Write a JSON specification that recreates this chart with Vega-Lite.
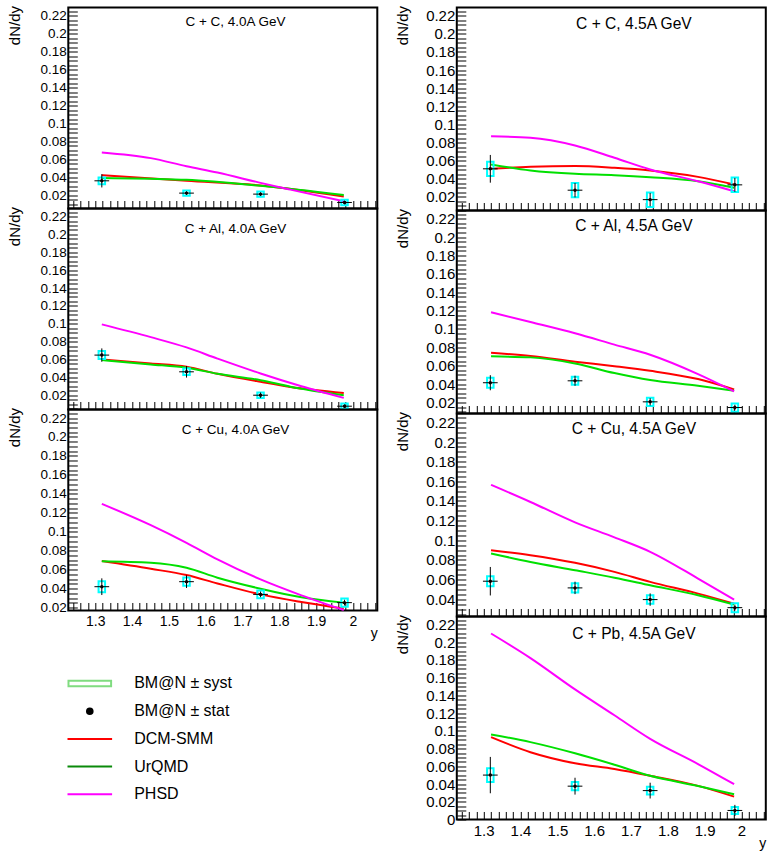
{
  "$schema": "https://vega.github.io/schema/vega-lite/v6.json",
  "background": "white",
  "padding": {"left": 5.3, "top": 2.5, "right": 5, "bottom": 5},
  "datasets": {
    "points": [
      {"panel": "L1", "rap": 1.318, "dndy": 0.0363, "stat": 0.0074, "syslo": 0.0326, "syshi": 0.0400, "xerr": 0.02},
      {"panel": "L1", "rap": 1.548, "dndy": 0.0226, "stat": 0.002, "syslo": 0.0196, "syshi": 0.0256, "xerr": 0.02},
      {"panel": "L1", "rap": 1.749, "dndy": 0.0215, "stat": 0.002, "syslo": 0.0185, "syshi": 0.0245, "xerr": 0.02},
      {"panel": "L1", "rap": 1.977, "dndy": 0.0122, "stat": 0.002, "syslo": 0.0092, "syshi": 0.0152, "xerr": 0.02},
      {"panel": "L2", "rap": 1.318, "dndy": 0.0649, "stat": 0.0075, "syslo": 0.0604, "syshi": 0.0694, "xerr": 0.02},
      {"panel": "L2", "rap": 1.548, "dndy": 0.0462, "stat": 0.0065, "syslo": 0.0425, "syshi": 0.0499, "xerr": 0.02},
      {"panel": "L2", "rap": 1.749, "dndy": 0.0200, "stat": 0.003, "syslo": 0.0170, "syshi": 0.0230, "xerr": 0.02},
      {"panel": "L2", "rap": 1.977, "dndy": 0.0077, "stat": 0.002, "syslo": 0.0047, "syshi": 0.0107, "xerr": 0.02},
      {"panel": "L3", "rap": 1.318, "dndy": 0.0421, "stat": 0.0088, "syslo": 0.0363, "syshi": 0.0479, "xerr": 0.02},
      {"panel": "L3", "rap": 1.548, "dndy": 0.0474, "stat": 0.0067, "syslo": 0.0430, "syshi": 0.0518, "xerr": 0.02},
      {"panel": "L3", "rap": 1.749, "dndy": 0.0340, "stat": 0.003, "syslo": 0.0300, "syshi": 0.0380, "xerr": 0.02},
      {"panel": "L3", "rap": 1.977, "dndy": 0.0253, "stat": 0.003, "syslo": 0.0209, "syshi": 0.0297, "xerr": 0.02},
      {"panel": "R1", "rap": 1.318, "dndy": 0.0510, "stat": 0.0153, "syslo": 0.0431, "syshi": 0.0589, "xerr": 0.02},
      {"panel": "R1", "rap": 1.548, "dndy": 0.0274, "stat": 0.008, "syslo": 0.0195, "syshi": 0.0353, "xerr": 0.02},
      {"panel": "R1", "rap": 1.752, "dndy": 0.0170, "stat": 0.0074, "syslo": 0.0090, "syshi": 0.0250, "xerr": 0.02},
      {"panel": "R1", "rap": 1.982, "dndy": 0.0333, "stat": 0.0077, "syslo": 0.0253, "syshi": 0.0413, "xerr": 0.02},
      {"panel": "R2", "rap": 1.318, "dndy": 0.0415, "stat": 0.0082, "syslo": 0.0360, "syshi": 0.0470, "xerr": 0.02},
      {"panel": "R2", "rap": 1.548, "dndy": 0.0436, "stat": 0.0055, "syslo": 0.0392, "syshi": 0.0480, "xerr": 0.02},
      {"panel": "R2", "rap": 1.752, "dndy": 0.0207, "stat": 0.004, "syslo": 0.0162, "syshi": 0.0252, "xerr": 0.02},
      {"panel": "R2", "rap": 1.982, "dndy": 0.0145, "stat": 0.003, "syslo": 0.0100, "syshi": 0.0190, "xerr": 0.02},
      {"panel": "R3", "rap": 1.318, "dndy": 0.0584, "stat": 0.0145, "syslo": 0.0533, "syshi": 0.0635, "xerr": 0.02},
      {"panel": "R3", "rap": 1.548, "dndy": 0.0516, "stat": 0.0063, "syslo": 0.0470, "syshi": 0.0562, "xerr": 0.02},
      {"panel": "R3", "rap": 1.752, "dndy": 0.0397, "stat": 0.0063, "syslo": 0.0354, "syshi": 0.0440, "xerr": 0.02},
      {"panel": "R3", "rap": 1.982, "dndy": 0.0315, "stat": 0.003, "syslo": 0.0269, "syshi": 0.0361, "xerr": 0.02},
      {"panel": "R4", "rap": 1.318, "dndy": 0.0501, "stat": 0.0205, "syslo": 0.0423, "syshi": 0.0579, "xerr": 0.02},
      {"panel": "R4", "rap": 1.548, "dndy": 0.0376, "stat": 0.0095, "syslo": 0.0329, "syshi": 0.0423, "xerr": 0.02},
      {"panel": "R4", "rap": 1.752, "dndy": 0.0326, "stat": 0.0089, "syslo": 0.0282, "syshi": 0.0370, "xerr": 0.02},
      {"panel": "R4", "rap": 1.982, "dndy": 0.0102, "stat": 0.0063, "syslo": 0.0062, "syshi": 0.0142, "xerr": 0.02}
    ],
    "models": [
      {"panel": "L1", "model": "DCM-SMM", "rap": 1.318, "dndy": 0.0426},
      {"panel": "L1", "model": "DCM-SMM", "rap": 1.548, "dndy": 0.0363},
      {"panel": "L1", "model": "DCM-SMM", "rap": 1.749, "dndy": 0.0311},
      {"panel": "L1", "model": "DCM-SMM", "rap": 1.975, "dndy": 0.0189},
      {"panel": "L1", "model": "UrQMD", "rap": 1.318, "dndy": 0.0393},
      {"panel": "L1", "model": "UrQMD", "rap": 1.451, "dndy": 0.0385},
      {"panel": "L1", "model": "UrQMD", "rap": 1.548, "dndy": 0.0374},
      {"panel": "L1", "model": "UrQMD", "rap": 1.749, "dndy": 0.0307},
      {"panel": "L1", "model": "UrQMD", "rap": 1.975, "dndy": 0.0204},
      {"panel": "L1", "model": "PHSD", "rap": 1.318, "dndy": 0.0678},
      {"panel": "L1", "model": "PHSD", "rap": 1.451, "dndy": 0.0615},
      {"panel": "L1", "model": "PHSD", "rap": 1.548, "dndy": 0.0525},
      {"panel": "L1", "model": "PHSD", "rap": 1.632, "dndy": 0.0455},
      {"panel": "L1", "model": "PHSD", "rap": 1.749, "dndy": 0.0340},
      {"panel": "L1", "model": "PHSD", "rap": 1.830, "dndy": 0.0265},
      {"panel": "L1", "model": "PHSD", "rap": 1.975, "dndy": 0.0135},
      {"panel": "L2", "model": "DCM-SMM", "rap": 1.318, "dndy": 0.0600},
      {"panel": "L2", "model": "DCM-SMM", "rap": 1.451, "dndy": 0.0555},
      {"panel": "L2", "model": "DCM-SMM", "rap": 1.548, "dndy": 0.0518},
      {"panel": "L2", "model": "DCM-SMM", "rap": 1.632, "dndy": 0.0440},
      {"panel": "L2", "model": "DCM-SMM", "rap": 1.749, "dndy": 0.0350},
      {"panel": "L2", "model": "DCM-SMM", "rap": 1.830, "dndy": 0.0293},
      {"panel": "L2", "model": "DCM-SMM", "rap": 1.975, "dndy": 0.0226},
      {"panel": "L2", "model": "UrQMD", "rap": 1.318, "dndy": 0.0593},
      {"panel": "L2", "model": "UrQMD", "rap": 1.451, "dndy": 0.0545},
      {"panel": "L2", "model": "UrQMD", "rap": 1.548, "dndy": 0.0507},
      {"panel": "L2", "model": "UrQMD", "rap": 1.632, "dndy": 0.0440},
      {"panel": "L2", "model": "UrQMD", "rap": 1.749, "dndy": 0.0368},
      {"panel": "L2", "model": "UrQMD", "rap": 1.830, "dndy": 0.0295},
      {"panel": "L2", "model": "UrQMD", "rap": 1.975, "dndy": 0.0200},
      {"panel": "L2", "model": "PHSD", "rap": 1.318, "dndy": 0.0993},
      {"panel": "L2", "model": "PHSD", "rap": 1.451, "dndy": 0.0850},
      {"panel": "L2", "model": "PHSD", "rap": 1.548, "dndy": 0.0735},
      {"panel": "L2", "model": "PHSD", "rap": 1.632, "dndy": 0.0610},
      {"panel": "L2", "model": "PHSD", "rap": 1.749, "dndy": 0.0443},
      {"panel": "L2", "model": "PHSD", "rap": 1.860, "dndy": 0.0300},
      {"panel": "L2", "model": "PHSD", "rap": 1.975, "dndy": 0.0170},
      {"panel": "L3", "model": "DCM-SMM", "rap": 1.318, "dndy": 0.0691},
      {"panel": "L3", "model": "DCM-SMM", "rap": 1.451, "dndy": 0.0610},
      {"panel": "L3", "model": "DCM-SMM", "rap": 1.548, "dndy": 0.0544},
      {"panel": "L3", "model": "DCM-SMM", "rap": 1.632, "dndy": 0.0455},
      {"panel": "L3", "model": "DCM-SMM", "rap": 1.749, "dndy": 0.0340},
      {"panel": "L3", "model": "DCM-SMM", "rap": 1.860, "dndy": 0.0260},
      {"panel": "L3", "model": "DCM-SMM", "rap": 1.975, "dndy": 0.0190},
      {"panel": "L3", "model": "UrQMD", "rap": 1.318, "dndy": 0.0690},
      {"panel": "L3", "model": "UrQMD", "rap": 1.451, "dndy": 0.0674},
      {"panel": "L3", "model": "UrQMD", "rap": 1.548, "dndy": 0.0621},
      {"panel": "L3", "model": "UrQMD", "rap": 1.632, "dndy": 0.0516},
      {"panel": "L3", "model": "UrQMD", "rap": 1.749, "dndy": 0.0400},
      {"panel": "L3", "model": "UrQMD", "rap": 1.860, "dndy": 0.0310},
      {"panel": "L3", "model": "UrQMD", "rap": 1.975, "dndy": 0.0253},
      {"panel": "L3", "model": "PHSD", "rap": 1.318, "dndy": 0.1295},
      {"panel": "L3", "model": "PHSD", "rap": 1.451, "dndy": 0.1070},
      {"panel": "L3", "model": "PHSD", "rap": 1.548, "dndy": 0.0884},
      {"panel": "L3", "model": "PHSD", "rap": 1.632, "dndy": 0.0710},
      {"panel": "L3", "model": "PHSD", "rap": 1.749, "dndy": 0.0498},
      {"panel": "L3", "model": "PHSD", "rap": 1.860, "dndy": 0.0330},
      {"panel": "L3", "model": "PHSD", "rap": 1.975, "dndy": 0.0175},
      {"panel": "R1", "model": "DCM-SMM", "rap": 1.320, "dndy": 0.0510},
      {"panel": "R1", "model": "DCM-SMM", "rap": 1.427, "dndy": 0.0532},
      {"panel": "R1", "model": "DCM-SMM", "rap": 1.548, "dndy": 0.0540},
      {"panel": "R1", "model": "DCM-SMM", "rap": 1.655, "dndy": 0.0521},
      {"panel": "R1", "model": "DCM-SMM", "rap": 1.752, "dndy": 0.0492},
      {"panel": "R1", "model": "DCM-SMM", "rap": 1.882, "dndy": 0.0421},
      {"panel": "R1", "model": "DCM-SMM", "rap": 1.980, "dndy": 0.0337},
      {"panel": "R1", "model": "UrQMD", "rap": 1.320, "dndy": 0.0558},
      {"panel": "R1", "model": "UrQMD", "rap": 1.427, "dndy": 0.0492},
      {"panel": "R1", "model": "UrQMD", "rap": 1.548, "dndy": 0.0455},
      {"panel": "R1", "model": "UrQMD", "rap": 1.655, "dndy": 0.0440},
      {"panel": "R1", "model": "UrQMD", "rap": 1.752, "dndy": 0.0418},
      {"panel": "R1", "model": "UrQMD", "rap": 1.882, "dndy": 0.0373},
      {"panel": "R1", "model": "UrQMD", "rap": 1.980, "dndy": 0.0300},
      {"panel": "R1", "model": "PHSD", "rap": 1.320, "dndy": 0.0868},
      {"panel": "R1", "model": "PHSD", "rap": 1.427, "dndy": 0.0853},
      {"panel": "R1", "model": "PHSD", "rap": 1.548, "dndy": 0.0768},
      {"panel": "R1", "model": "PHSD", "rap": 1.655, "dndy": 0.0632},
      {"panel": "R1", "model": "PHSD", "rap": 1.752, "dndy": 0.0503},
      {"panel": "R1", "model": "PHSD", "rap": 1.882, "dndy": 0.0373},
      {"panel": "R1", "model": "PHSD", "rap": 1.980, "dndy": 0.0263},
      {"panel": "R2", "model": "DCM-SMM", "rap": 1.320, "dndy": 0.0742},
      {"panel": "R2", "model": "DCM-SMM", "rap": 1.427, "dndy": 0.0705},
      {"panel": "R2", "model": "DCM-SMM", "rap": 1.548, "dndy": 0.0644},
      {"panel": "R2", "model": "DCM-SMM", "rap": 1.655, "dndy": 0.0595},
      {"panel": "R2", "model": "DCM-SMM", "rap": 1.752, "dndy": 0.0545},
      {"panel": "R2", "model": "DCM-SMM", "rap": 1.882, "dndy": 0.0455},
      {"panel": "R2", "model": "DCM-SMM", "rap": 1.980, "dndy": 0.0342},
      {"panel": "R2", "model": "UrQMD", "rap": 1.320, "dndy": 0.0702},
      {"panel": "R2", "model": "UrQMD", "rap": 1.427, "dndy": 0.0691},
      {"panel": "R2", "model": "UrQMD", "rap": 1.548, "dndy": 0.0625},
      {"panel": "R2", "model": "UrQMD", "rap": 1.655, "dndy": 0.0520},
      {"panel": "R2", "model": "UrQMD", "rap": 1.752, "dndy": 0.0444},
      {"panel": "R2", "model": "UrQMD", "rap": 1.882, "dndy": 0.0382},
      {"panel": "R2", "model": "UrQMD", "rap": 1.980, "dndy": 0.0327},
      {"panel": "R2", "model": "PHSD", "rap": 1.320, "dndy": 0.1182},
      {"panel": "R2", "model": "PHSD", "rap": 1.427, "dndy": 0.1076},
      {"panel": "R2", "model": "PHSD", "rap": 1.548, "dndy": 0.0953},
      {"panel": "R2", "model": "PHSD", "rap": 1.655, "dndy": 0.0830},
      {"panel": "R2", "model": "PHSD", "rap": 1.752, "dndy": 0.0720},
      {"panel": "R2", "model": "PHSD", "rap": 1.882, "dndy": 0.0509},
      {"panel": "R2", "model": "PHSD", "rap": 1.980, "dndy": 0.0320},
      {"panel": "R3", "model": "DCM-SMM", "rap": 1.320, "dndy": 0.0900},
      {"panel": "R3", "model": "DCM-SMM", "rap": 1.427, "dndy": 0.0849},
      {"panel": "R3", "model": "DCM-SMM", "rap": 1.548, "dndy": 0.0771},
      {"panel": "R3", "model": "DCM-SMM", "rap": 1.655, "dndy": 0.0679},
      {"panel": "R3", "model": "DCM-SMM", "rap": 1.752, "dndy": 0.0577},
      {"panel": "R3", "model": "DCM-SMM", "rap": 1.882, "dndy": 0.0458},
      {"panel": "R3", "model": "DCM-SMM", "rap": 1.980, "dndy": 0.0356},
      {"panel": "R3", "model": "UrQMD", "rap": 1.320, "dndy": 0.0866},
      {"panel": "R3", "model": "UrQMD", "rap": 1.427, "dndy": 0.0780},
      {"panel": "R3", "model": "UrQMD", "rap": 1.548, "dndy": 0.0696},
      {"panel": "R3", "model": "UrQMD", "rap": 1.655, "dndy": 0.0620},
      {"panel": "R3", "model": "UrQMD", "rap": 1.752, "dndy": 0.0543},
      {"panel": "R3", "model": "UrQMD", "rap": 1.882, "dndy": 0.0441},
      {"panel": "R3", "model": "UrQMD", "rap": 1.980, "dndy": 0.0346},
      {"panel": "R3", "model": "PHSD", "rap": 1.320, "dndy": 0.1564},
      {"panel": "R3", "model": "PHSD", "rap": 1.427, "dndy": 0.1390},
      {"panel": "R3", "model": "PHSD", "rap": 1.548, "dndy": 0.1183},
      {"panel": "R3", "model": "PHSD", "rap": 1.655, "dndy": 0.1030},
      {"panel": "R3", "model": "PHSD", "rap": 1.752, "dndy": 0.0883},
      {"panel": "R3", "model": "PHSD", "rap": 1.882, "dndy": 0.0611},
      {"panel": "R3", "model": "PHSD", "rap": 1.980, "dndy": 0.0397},
      {"panel": "R4", "model": "DCM-SMM", "rap": 1.320, "dndy": 0.0929},
      {"panel": "R4", "model": "DCM-SMM", "rap": 1.427, "dndy": 0.0759},
      {"panel": "R4", "model": "DCM-SMM", "rap": 1.548, "dndy": 0.0634},
      {"panel": "R4", "model": "DCM-SMM", "rap": 1.655, "dndy": 0.0569},
      {"panel": "R4", "model": "DCM-SMM", "rap": 1.752, "dndy": 0.0493},
      {"panel": "R4", "model": "DCM-SMM", "rap": 1.882, "dndy": 0.0379},
      {"panel": "R4", "model": "DCM-SMM", "rap": 1.980, "dndy": 0.0258},
      {"panel": "R4", "model": "UrQMD", "rap": 1.320, "dndy": 0.0960},
      {"panel": "R4", "model": "UrQMD", "rap": 1.427, "dndy": 0.0873},
      {"panel": "R4", "model": "UrQMD", "rap": 1.548, "dndy": 0.0747},
      {"panel": "R4", "model": "UrQMD", "rap": 1.655, "dndy": 0.0618},
      {"panel": "R4", "model": "UrQMD", "rap": 1.752, "dndy": 0.0493},
      {"panel": "R4", "model": "UrQMD", "rap": 1.882, "dndy": 0.0379},
      {"panel": "R4", "model": "UrQMD", "rap": 1.980, "dndy": 0.0285},
      {"panel": "R4", "model": "PHSD", "rap": 1.320, "dndy": 0.2098},
      {"panel": "R4", "model": "PHSD", "rap": 1.427, "dndy": 0.1821},
      {"panel": "R4", "model": "PHSD", "rap": 1.548, "dndy": 0.1468},
      {"panel": "R4", "model": "PHSD", "rap": 1.655, "dndy": 0.1176},
      {"panel": "R4", "model": "PHSD", "rap": 1.752, "dndy": 0.0910},
      {"panel": "R4", "model": "PHSD", "rap": 1.882, "dndy": 0.0626},
      {"panel": "R4", "model": "PHSD", "rap": 1.980, "dndy": 0.0398}
    ],
    "legend": [
      {"entry": "BM@N ± syst"},
      {"entry": "BM@N ± stat"},
      {"entry": "DCM-SMM"},
      {"entry": "UrQMD"},
      {"entry": "PHSD"}
    ]
  },
  "hconcat": [
    {
      "vconcat": [
        {
          "width": 309, "height": 201,
          "title": {"text": "C + C, 4.0A GeV", "frame": "group", "anchor": "middle", "dx": 12.7, "offset": -35.3, "baseline": "alphabetic", "fontSize": 13.5},
          "layer": [
            {"data": {"name": "models"}, "transform": [{"filter": "datum.panel === 'L1'"}],
             "mark": {"type": "line", "strokeWidth": 2, "interpolate": "monotone"},
             "encoding": {
               "x": {"field": "rap", "type": "quantitative", "title": null, "scale": {"domain": [1.227, 2.066], "nice": false, "zero": false, "padding": 0},
                     "axis": {"title": null, "labels": false, "tickCount": 200, "values": [1.24,1.26,1.28,1.3,1.32,1.34,1.36,1.38,1.4,1.42,1.44,1.46,1.48,1.5,1.52,1.54,1.56,1.58,1.6,1.62,1.64,1.66,1.68,1.7,1.72,1.74,1.76,1.78,1.8,1.82,1.84,1.86,1.88,1.9,1.92,1.94,1.96,1.98,2,2.02,2.04,2.06],
                              "tickSize": -8, "encode": {"ticks": {"update": {"y2": {"signal": "abs(datum.value*10 - round(datum.value*10)) < 0.000001 ? -8 : -4"}}}}}},
               "y": {"field": "dndy", "type": "quantitative", "title": "dN/dy", "scale": {"domain": [0.0055, 0.229], "nice": false, "zero": false},
                     "axis": {"title": "dN/dy", "tickCount": 200, "values": [0.01,0.015,0.02,0.025,0.03,0.035,0.04,0.045,0.05,0.055,0.06,0.065,0.07,0.075,0.08,0.085,0.09,0.095,0.1,0.105,0.11,0.115,0.12,0.125,0.13,0.135,0.14,0.145,0.15,0.155,0.16,0.165,0.17,0.175,0.18,0.185,0.19,0.195,0.2,0.205,0.21,0.215,0.22,0.225],
                              "tickSize": -9, "encode": {"ticks": {"update": {"x2": {"signal": "abs(datum.value*50 - round(datum.value*50)) < 0.000001 ? 9 : 4.5"}}}},
                              "labelExpr": "abs(datum.value*50 - round(datum.value*50)) < 0.000001 ? format(datum.value, '~g') : ''",
                              "labelPadding": 11, "labelFontSize": 13.5, "titleFontSize": 15, "titleAngle": -90, "titleAlign": "right", "titleBaseline": "middle", "titleX": -54, "titleY": -2}},
               "color": {"field": "model", "type": "nominal", "scale": {"domain": ["DCM-SMM", "UrQMD", "PHSD"], "range": ["#ff0000", "#00e000", "#ff00ff"]}, "legend": null}
             }},
            {"data": {"name": "points"}, "transform": [{"filter": "datum.panel === 'L1'"}],
             "mark": {"type": "bar", "width": 6.5, "filled": false, "stroke": "#00ffff", "strokeWidth": 2},
             "encoding": {"x": {"field": "rap", "type": "quantitative", "title": null}, "y": {"field": "syslo", "type": "quantitative", "title": "dN/dy"}, "y2": {"field": "syshi"}}},
            {"data": {"name": "points"}, "transform": [{"filter": "datum.panel === 'L1'"}],
             "mark": {"type": "errorbar", "ticks": false, "color": "black", "thickness": 1},
             "encoding": {"x": {"field": "rap", "type": "quantitative", "title": null}, "y": {"field": "dndy", "type": "quantitative", "title": "dN/dy"}, "yError": {"field": "stat"}}},
            {"data": {"name": "points"}, "transform": [{"filter": "datum.panel === 'L1'"}],
             "mark": {"type": "errorbar", "ticks": false, "color": "black", "thickness": 1},
             "encoding": {"x": {"field": "rap", "type": "quantitative", "title": null}, "xError": {"field": "xerr"}, "y": {"field": "dndy", "type": "quantitative", "title": "dN/dy"}}},
            {"data": {"name": "points"}, "transform": [{"filter": "datum.panel === 'L1'"}],
             "mark": {"type": "point", "filled": true, "color": "black", "size": 12, "opacity": 1},
             "encoding": {"x": {"field": "rap", "type": "quantitative", "title": null}, "y": {"field": "dndy", "type": "quantitative", "title": "dN/dy"}}}
          ]
        },
        {
          "width": 309, "height": 201,
          "title": {"text": "C + Al, 4.0A GeV", "frame": "group", "anchor": "middle", "dx": 12.7, "offset": -41, "baseline": "alphabetic", "fontSize": 13.5},
          "layer": [
            {"data": {"name": "models"}, "transform": [{"filter": "datum.panel === 'L2'"}],
             "mark": {"type": "line", "strokeWidth": 2, "interpolate": "monotone"},
             "encoding": {
               "x": {"field": "rap", "type": "quantitative", "title": null, "scale": {"domain": [1.227, 2.066], "nice": false, "zero": false, "padding": 0},
                     "axis": {"title": null, "labels": false, "tickCount": 200, "values": [1.24,1.26,1.28,1.3,1.32,1.34,1.36,1.38,1.4,1.42,1.44,1.46,1.48,1.5,1.52,1.54,1.56,1.58,1.6,1.62,1.64,1.66,1.68,1.7,1.72,1.74,1.76,1.78,1.8,1.82,1.84,1.86,1.88,1.9,1.92,1.94,1.96,1.98,2,2.02,2.04,2.06],
                              "tickSize": -8, "encode": {"ticks": {"update": {"y2": {"signal": "abs(datum.value*10 - round(datum.value*10)) < 0.000001 ? -8 : -4"}}}}}},
               "y": {"field": "dndy", "type": "quantitative", "title": "dN/dy", "scale": {"domain": [0.004, 0.229], "nice": false, "zero": false},
                     "axis": {"title": "dN/dy", "tickCount": 200, "values": [0.005,0.01,0.015,0.02,0.025,0.03,0.035,0.04,0.045,0.05,0.055,0.06,0.065,0.07,0.075,0.08,0.085,0.09,0.095,0.1,0.105,0.11,0.115,0.12,0.125,0.13,0.135,0.14,0.145,0.15,0.155,0.16,0.165,0.17,0.175,0.18,0.185,0.19,0.195,0.2,0.205,0.21,0.215,0.22,0.225],
                              "tickSize": -9, "encode": {"ticks": {"update": {"x2": {"signal": "abs(datum.value*50 - round(datum.value*50)) < 0.000001 ? 9 : 4.5"}}}},
                              "labelExpr": "abs(datum.value*50 - round(datum.value*50)) < 0.000001 ? format(datum.value, '~g') : ''",
                              "labelPadding": 11, "labelFontSize": 13.5, "titleFontSize": 15, "titleAngle": -90, "titleAlign": "right", "titleBaseline": "middle", "titleX": -54, "titleY": -2}},
               "color": {"field": "model", "type": "nominal", "scale": {"domain": ["DCM-SMM", "UrQMD", "PHSD"], "range": ["#ff0000", "#00e000", "#ff00ff"]}, "legend": null}
             }},
            {"data": {"name": "points"}, "transform": [{"filter": "datum.panel === 'L2'"}],
             "mark": {"type": "bar", "width": 6.5, "filled": false, "stroke": "#00ffff", "strokeWidth": 2},
             "encoding": {"x": {"field": "rap", "type": "quantitative", "title": null}, "y": {"field": "syslo", "type": "quantitative", "title": "dN/dy"}, "y2": {"field": "syshi"}}},
            {"data": {"name": "points"}, "transform": [{"filter": "datum.panel === 'L2'"}],
             "mark": {"type": "errorbar", "ticks": false, "color": "black", "thickness": 1},
             "encoding": {"x": {"field": "rap", "type": "quantitative", "title": null}, "y": {"field": "dndy", "type": "quantitative", "title": "dN/dy"}, "yError": {"field": "stat"}}},
            {"data": {"name": "points"}, "transform": [{"filter": "datum.panel === 'L2'"}],
             "mark": {"type": "errorbar", "ticks": false, "color": "black", "thickness": 1},
             "encoding": {"x": {"field": "rap", "type": "quantitative", "title": null}, "xError": {"field": "xerr"}, "y": {"field": "dndy", "type": "quantitative", "title": "dN/dy"}}},
            {"data": {"name": "points"}, "transform": [{"filter": "datum.panel === 'L2'"}],
             "mark": {"type": "point", "filled": true, "color": "black", "size": 12, "opacity": 1},
             "encoding": {"x": {"field": "rap", "type": "quantitative", "title": null}, "y": {"field": "dndy", "type": "quantitative", "title": "dN/dy"}}}
          ]
        },
        {
          "width": 309, "height": 201,
          "title": {"text": "C + Cu, 4.0A GeV", "frame": "group", "anchor": "middle", "dx": 12.7, "offset": -41.5, "baseline": "alphabetic", "fontSize": 13.5},
          "layer": [
            {"data": {"name": "models"}, "transform": [{"filter": "datum.panel === 'L3'"}],
             "mark": {"type": "line", "strokeWidth": 2, "interpolate": "monotone"},
             "encoding": {
               "x": {"field": "rap", "type": "quantitative", "title": "y", "scale": {"domain": [1.227, 2.066], "nice": false, "zero": false, "padding": 0},
                     "axis": {"title": "y", "tickCount": 200, "values": [1.24,1.26,1.28,1.3,1.32,1.34,1.36,1.38,1.4,1.42,1.44,1.46,1.48,1.5,1.52,1.54,1.56,1.58,1.6,1.62,1.64,1.66,1.68,1.7,1.72,1.74,1.76,1.78,1.8,1.82,1.84,1.86,1.88,1.9,1.92,1.94,1.96,1.98,2,2.02,2.04,2.06],
                              "tickSize": -8, "encode": {"ticks": {"update": {"y2": {"signal": "abs(datum.value*10 - round(datum.value*10)) < 0.000001 ? -8 : -4"}}}},
                              "labelExpr": "abs(datum.value*10 - round(datum.value*10)) < 0.000001 ? format(datum.value, '~g') : ''",
                              "labelPadding": 12, "labelFontSize": 14, "titleFontSize": 14, "titleAlign": "right", "titleBaseline": "alphabetic", "titleX": 309, "titleY": 27}},
               "y": {"field": "dndy", "type": "quantitative", "title": "dN/dy", "scale": {"domain": [0.017, 0.229], "nice": false, "zero": false},
                     "axis": {"title": "dN/dy", "tickCount": 200, "values": [0.02,0.025,0.03,0.035,0.04,0.045,0.05,0.055,0.06,0.065,0.07,0.075,0.08,0.085,0.09,0.095,0.1,0.105,0.11,0.115,0.12,0.125,0.13,0.135,0.14,0.145,0.15,0.155,0.16,0.165,0.17,0.175,0.18,0.185,0.19,0.195,0.2,0.205,0.21,0.215,0.22,0.225],
                              "tickSize": -9, "encode": {"ticks": {"update": {"x2": {"signal": "abs(datum.value*50 - round(datum.value*50)) < 0.000001 ? 9 : 4.5"}}}},
                              "labelExpr": "abs(datum.value*50 - round(datum.value*50)) < 0.000001 ? format(datum.value, '~g') : ''",
                              "labelPadding": 11, "labelFontSize": 13.5, "titleFontSize": 15, "titleAngle": -90, "titleAlign": "right", "titleBaseline": "middle", "titleX": -54, "titleY": -2}},
               "color": {"field": "model", "type": "nominal", "scale": {"domain": ["DCM-SMM", "UrQMD", "PHSD"], "range": ["#ff0000", "#00e000", "#ff00ff"]}, "legend": null}
             }},
            {"data": {"name": "points"}, "transform": [{"filter": "datum.panel === 'L3'"}],
             "mark": {"type": "bar", "width": 6.5, "filled": false, "stroke": "#00ffff", "strokeWidth": 2},
             "encoding": {"x": {"field": "rap", "type": "quantitative", "title": "y"}, "y": {"field": "syslo", "type": "quantitative", "title": "dN/dy"}, "y2": {"field": "syshi"}}},
            {"data": {"name": "points"}, "transform": [{"filter": "datum.panel === 'L3'"}],
             "mark": {"type": "errorbar", "ticks": false, "color": "black", "thickness": 1},
             "encoding": {"x": {"field": "rap", "type": "quantitative", "title": "y"}, "y": {"field": "dndy", "type": "quantitative", "title": "dN/dy"}, "yError": {"field": "stat"}}},
            {"data": {"name": "points"}, "transform": [{"filter": "datum.panel === 'L3'"}],
             "mark": {"type": "errorbar", "ticks": false, "color": "black", "thickness": 1},
             "encoding": {"x": {"field": "rap", "type": "quantitative", "title": "y"}, "xError": {"field": "xerr"}, "y": {"field": "dndy", "type": "quantitative", "title": "dN/dy"}}},
            {"data": {"name": "points"}, "transform": [{"filter": "datum.panel === 'L3'"}],
             "mark": {"type": "point", "filled": true, "color": "black", "size": 12, "opacity": 1},
             "encoding": {"x": {"field": "rap", "type": "quantitative", "title": "y"}, "y": {"field": "dndy", "type": "quantitative", "title": "dN/dy"}}},
            {"data": {"name": "legend"},
             "mark": {"type": "point", "filled": true, "opacity": 1},
             "encoding": {
               "x": {"field": "rap", "type": "quantitative", "title": "y"},
               "y": {"field": "dndy", "type": "quantitative", "title": "dN/dy"},
               "fill": {"field": "entry", "type": "nominal",
                        "scale": {"domain": ["BM@N ± syst", "BM@N ± stat", "DCM-SMM", "UrQMD", "PHSD"], "range": ["#ffffff", "#000000", "transparent", "transparent", "transparent"]},
                        "legend": {"title": null, "orient": "none", "legendX": 13.5, "legendY": 668, "labelFontSize": 16, "labelFont": "Liberation Sans", "labelColor": "black", "symbolSize": 100, "symbolStrokeWidth": 2, "labelOffset": 36.4, "rowPadding": 11.7, "padding": 0}},
               "stroke": {"field": "entry", "type": "nominal",
                          "scale": {"domain": ["BM@N ± syst", "BM@N ± stat", "DCM-SMM", "UrQMD", "PHSD"], "range": ["#80dc80", "#000000", "#ff0000", "#0a8a0a", "#ff00ff"]},
                          "legend": {"title": null, "orient": "none", "legendX": 13.5, "legendY": 668, "labelFontSize": 16, "labelFont": "Liberation Sans", "labelColor": "black", "symbolSize": 100, "symbolStrokeWidth": 2, "labelOffset": 36.4, "rowPadding": 11.7, "padding": 0}},
               "shape": {"field": "entry", "type": "nominal",
                         "scale": {"domain": ["BM@N ± syst", "BM@N ± stat", "DCM-SMM", "UrQMD", "PHSD"], "range": ["M-4.26,-0.57H4.26V0.57H-4.26Z", "M-0.56,0A0.56,0.56,0,1,0,0.56,0A0.56,0.56,0,1,0,-0.56,0Z", "M-4.46,0H4.46", "M-4.46,0H4.46", "M-4.46,0H4.46"]},
                         "legend": {"title": null, "orient": "none", "legendX": 13.5, "legendY": 668, "labelFontSize": 16, "labelFont": "Liberation Sans", "labelColor": "black", "symbolSize": 100, "symbolStrokeWidth": 2, "labelOffset": 36.4, "rowPadding": 11.7, "padding": 0}}
             }}
          ]
        }
      ],
      "spacing": 0,
      "bounds": "flush",
      "resolve": {"scale": {"x": "independent", "y": "independent"}}
    },
    {
      "vconcat": [
        {
          "width": 309, "height": 203,
          "title": {"text": "C + C, 4.5A GeV", "frame": "group", "anchor": "middle", "dx": 22.6, "offset": -40.8, "baseline": "alphabetic", "fontSize": 15.6},
          "layer": [
            {"data": {"name": "models"}, "transform": [{"filter": "datum.panel === 'R1'"}],
             "mark": {"type": "line", "strokeWidth": 2, "interpolate": "monotone"},
             "encoding": {
               "x": {"field": "rap", "type": "quantitative", "title": null, "scale": {"domain": [1.227, 2.066], "nice": false, "zero": false, "padding": 0},
                     "axis": {"title": null, "labels": false, "tickCount": 200, "values": [1.24,1.26,1.28,1.3,1.32,1.34,1.36,1.38,1.4,1.42,1.44,1.46,1.48,1.5,1.52,1.54,1.56,1.58,1.6,1.62,1.64,1.66,1.68,1.7,1.72,1.74,1.76,1.78,1.8,1.82,1.84,1.86,1.88,1.9,1.92,1.94,1.96,1.98,2,2.02,2.04,2.06],
                              "tickSize": -8, "encode": {"ticks": {"update": {"y2": {"signal": "abs(datum.value*10 - round(datum.value*10)) < 0.000001 ? -8 : -4"}}}}}},
               "y": {"field": "dndy", "type": "quantitative", "title": "dN/dy", "scale": {"domain": [0.005, 0.229], "nice": false, "zero": false},
                     "axis": {"title": "dN/dy", "tickCount": 200, "values": [0.005,0.01,0.015,0.02,0.025,0.03,0.035,0.04,0.045,0.05,0.055,0.06,0.065,0.07,0.075,0.08,0.085,0.09,0.095,0.1,0.105,0.11,0.115,0.12,0.125,0.13,0.135,0.14,0.145,0.15,0.155,0.16,0.165,0.17,0.175,0.18,0.185,0.19,0.195,0.2,0.205,0.21,0.215,0.22,0.225],
                              "tickSize": -9, "encode": {"ticks": {"update": {"x2": {"signal": "abs(datum.value*50 - round(datum.value*50)) < 0.000001 ? 9 : 4.5"}}}},
                              "labelExpr": "abs(datum.value*50 - round(datum.value*50)) < 0.000001 ? format(datum.value, '~g') : ''",
                              "labelPadding": 11, "labelFontSize": 15, "titleFontSize": 15, "titleAngle": -90, "titleAlign": "right", "titleBaseline": "middle", "titleX": -54, "titleY": -2}},
               "color": {"field": "model", "type": "nominal", "scale": {"domain": ["DCM-SMM", "UrQMD", "PHSD"], "range": ["#ff0000", "#00e000", "#ff00ff"]}, "legend": null}
             }},
            {"data": {"name": "points"}, "transform": [{"filter": "datum.panel === 'R1'"}],
             "mark": {"type": "bar", "width": 6.5, "filled": false, "stroke": "#00ffff", "strokeWidth": 2},
             "encoding": {"x": {"field": "rap", "type": "quantitative", "title": null}, "y": {"field": "syslo", "type": "quantitative", "title": "dN/dy"}, "y2": {"field": "syshi"}}},
            {"data": {"name": "points"}, "transform": [{"filter": "datum.panel === 'R1'"}],
             "mark": {"type": "errorbar", "ticks": false, "color": "black", "thickness": 1},
             "encoding": {"x": {"field": "rap", "type": "quantitative", "title": null}, "y": {"field": "dndy", "type": "quantitative", "title": "dN/dy"}, "yError": {"field": "stat"}}},
            {"data": {"name": "points"}, "transform": [{"filter": "datum.panel === 'R1'"}],
             "mark": {"type": "errorbar", "ticks": false, "color": "black", "thickness": 1},
             "encoding": {"x": {"field": "rap", "type": "quantitative", "title": null}, "xError": {"field": "xerr"}, "y": {"field": "dndy", "type": "quantitative", "title": "dN/dy"}}},
            {"data": {"name": "points"}, "transform": [{"filter": "datum.panel === 'R1'"}],
             "mark": {"type": "point", "filled": true, "color": "black", "size": 12, "opacity": 1},
             "encoding": {"x": {"field": "rap", "type": "quantitative", "title": null}, "y": {"field": "dndy", "type": "quantitative", "title": "dN/dy"}}}
          ]
        },
        {
          "width": 309, "height": 203,
          "title": {"text": "C + Al, 4.5A GeV", "frame": "group", "anchor": "middle", "dx": 22.6, "offset": -39.5, "baseline": "alphabetic", "fontSize": 15.6},
          "layer": [
            {"data": {"name": "models"}, "transform": [{"filter": "datum.panel === 'R2'"}],
             "mark": {"type": "line", "strokeWidth": 2, "interpolate": "monotone"},
             "encoding": {
               "x": {"field": "rap", "type": "quantitative", "title": null, "scale": {"domain": [1.227, 2.066], "nice": false, "zero": false, "padding": 0},
                     "axis": {"title": null, "labels": false, "tickCount": 200, "values": [1.24,1.26,1.28,1.3,1.32,1.34,1.36,1.38,1.4,1.42,1.44,1.46,1.48,1.5,1.52,1.54,1.56,1.58,1.6,1.62,1.64,1.66,1.68,1.7,1.72,1.74,1.76,1.78,1.8,1.82,1.84,1.86,1.88,1.9,1.92,1.94,1.96,1.98,2,2.02,2.04,2.06],
                              "tickSize": -8, "encode": {"ticks": {"update": {"y2": {"signal": "abs(datum.value*10 - round(datum.value*10)) < 0.000001 ? -8 : -4"}}}}}},
               "y": {"field": "dndy", "type": "quantitative", "title": "dN/dy", "scale": {"domain": [0.008, 0.229], "nice": false, "zero": false},
                     "axis": {"title": "dN/dy", "tickCount": 200, "values": [0.01,0.015,0.02,0.025,0.03,0.035,0.04,0.045,0.05,0.055,0.06,0.065,0.07,0.075,0.08,0.085,0.09,0.095,0.1,0.105,0.11,0.115,0.12,0.125,0.13,0.135,0.14,0.145,0.15,0.155,0.16,0.165,0.17,0.175,0.18,0.185,0.19,0.195,0.2,0.205,0.21,0.215,0.22,0.225],
                              "tickSize": -9, "encode": {"ticks": {"update": {"x2": {"signal": "abs(datum.value*50 - round(datum.value*50)) < 0.000001 ? 9 : 4.5"}}}},
                              "labelExpr": "abs(datum.value*50 - round(datum.value*50)) < 0.000001 ? format(datum.value, '~g') : ''",
                              "labelPadding": 11, "labelFontSize": 15, "titleFontSize": 15, "titleAngle": -90, "titleAlign": "right", "titleBaseline": "middle", "titleX": -54, "titleY": -2}},
               "color": {"field": "model", "type": "nominal", "scale": {"domain": ["DCM-SMM", "UrQMD", "PHSD"], "range": ["#ff0000", "#00e000", "#ff00ff"]}, "legend": null}
             }},
            {"data": {"name": "points"}, "transform": [{"filter": "datum.panel === 'R2'"}],
             "mark": {"type": "bar", "width": 6.5, "filled": false, "stroke": "#00ffff", "strokeWidth": 2},
             "encoding": {"x": {"field": "rap", "type": "quantitative", "title": null}, "y": {"field": "syslo", "type": "quantitative", "title": "dN/dy"}, "y2": {"field": "syshi"}}},
            {"data": {"name": "points"}, "transform": [{"filter": "datum.panel === 'R2'"}],
             "mark": {"type": "errorbar", "ticks": false, "color": "black", "thickness": 1},
             "encoding": {"x": {"field": "rap", "type": "quantitative", "title": null}, "y": {"field": "dndy", "type": "quantitative", "title": "dN/dy"}, "yError": {"field": "stat"}}},
            {"data": {"name": "points"}, "transform": [{"filter": "datum.panel === 'R2'"}],
             "mark": {"type": "errorbar", "ticks": false, "color": "black", "thickness": 1},
             "encoding": {"x": {"field": "rap", "type": "quantitative", "title": null}, "xError": {"field": "xerr"}, "y": {"field": "dndy", "type": "quantitative", "title": "dN/dy"}}},
            {"data": {"name": "points"}, "transform": [{"filter": "datum.panel === 'R2'"}],
             "mark": {"type": "point", "filled": true, "color": "black", "size": 12, "opacity": 1},
             "encoding": {"x": {"field": "rap", "type": "quantitative", "title": null}, "y": {"field": "dndy", "type": "quantitative", "title": "dN/dy"}}}
          ]
        },
        {
          "width": 309, "height": 203,
          "title": {"text": "C + Cu, 4.5A GeV", "frame": "group", "anchor": "middle", "dx": 22.6, "offset": -39.5, "baseline": "alphabetic", "fontSize": 15.6},
          "layer": [
            {"data": {"name": "models"}, "transform": [{"filter": "datum.panel === 'R3'"}],
             "mark": {"type": "line", "strokeWidth": 2, "interpolate": "monotone"},
             "encoding": {
               "x": {"field": "rap", "type": "quantitative", "title": null, "scale": {"domain": [1.227, 2.066], "nice": false, "zero": false, "padding": 0},
                     "axis": {"title": null, "labels": false, "tickCount": 200, "values": [1.24,1.26,1.28,1.3,1.32,1.34,1.36,1.38,1.4,1.42,1.44,1.46,1.48,1.5,1.52,1.54,1.56,1.58,1.6,1.62,1.64,1.66,1.68,1.7,1.72,1.74,1.76,1.78,1.8,1.82,1.84,1.86,1.88,1.9,1.92,1.94,1.96,1.98,2,2.02,2.04,2.06],
                              "tickSize": -8, "encode": {"ticks": {"update": {"y2": {"signal": "abs(datum.value*10 - round(datum.value*10)) < 0.000001 ? -8 : -4"}}}}}},
               "y": {"field": "dndy", "type": "quantitative", "title": "dN/dy", "scale": {"domain": [0.0225, 0.229], "nice": false, "zero": false},
                     "axis": {"title": "dN/dy", "tickCount": 200, "values": [0.025,0.03,0.035,0.04,0.045,0.05,0.055,0.06,0.065,0.07,0.075,0.08,0.085,0.09,0.095,0.1,0.105,0.11,0.115,0.12,0.125,0.13,0.135,0.14,0.145,0.15,0.155,0.16,0.165,0.17,0.175,0.18,0.185,0.19,0.195,0.2,0.205,0.21,0.215,0.22,0.225],
                              "tickSize": -9, "encode": {"ticks": {"update": {"x2": {"signal": "abs(datum.value*50 - round(datum.value*50)) < 0.000001 ? 9 : 4.5"}}}},
                              "labelExpr": "abs(datum.value*50 - round(datum.value*50)) < 0.000001 ? format(datum.value, '~g') : ''",
                              "labelPadding": 11, "labelFontSize": 15, "titleFontSize": 15, "titleAngle": -90, "titleAlign": "right", "titleBaseline": "middle", "titleX": -54, "titleY": -2}},
               "color": {"field": "model", "type": "nominal", "scale": {"domain": ["DCM-SMM", "UrQMD", "PHSD"], "range": ["#ff0000", "#00e000", "#ff00ff"]}, "legend": null}
             }},
            {"data": {"name": "points"}, "transform": [{"filter": "datum.panel === 'R3'"}],
             "mark": {"type": "bar", "width": 6.5, "filled": false, "stroke": "#00ffff", "strokeWidth": 2},
             "encoding": {"x": {"field": "rap", "type": "quantitative", "title": null}, "y": {"field": "syslo", "type": "quantitative", "title": "dN/dy"}, "y2": {"field": "syshi"}}},
            {"data": {"name": "points"}, "transform": [{"filter": "datum.panel === 'R3'"}],
             "mark": {"type": "errorbar", "ticks": false, "color": "black", "thickness": 1},
             "encoding": {"x": {"field": "rap", "type": "quantitative", "title": null}, "y": {"field": "dndy", "type": "quantitative", "title": "dN/dy"}, "yError": {"field": "stat"}}},
            {"data": {"name": "points"}, "transform": [{"filter": "datum.panel === 'R3'"}],
             "mark": {"type": "errorbar", "ticks": false, "color": "black", "thickness": 1},
             "encoding": {"x": {"field": "rap", "type": "quantitative", "title": null}, "xError": {"field": "xerr"}, "y": {"field": "dndy", "type": "quantitative", "title": "dN/dy"}}},
            {"data": {"name": "points"}, "transform": [{"filter": "datum.panel === 'R3'"}],
             "mark": {"type": "point", "filled": true, "color": "black", "size": 12, "opacity": 1},
             "encoding": {"x": {"field": "rap", "type": "quantitative", "title": null}, "y": {"field": "dndy", "type": "quantitative", "title": "dN/dy"}}}
          ]
        },
        {
          "width": 309, "height": 203,
          "title": {"text": "C + Pb, 4.5A GeV", "frame": "group", "anchor": "middle", "dx": 22.6, "offset": -41.5, "baseline": "alphabetic", "fontSize": 15.6},
          "layer": [
            {"data": {"name": "models"}, "transform": [{"filter": "datum.panel === 'R4'"}],
             "mark": {"type": "line", "strokeWidth": 2, "interpolate": "monotone"},
             "encoding": {
               "x": {"field": "rap", "type": "quantitative", "title": "y", "scale": {"domain": [1.227, 2.066], "nice": false, "zero": false, "padding": 0},
                     "axis": {"title": "y", "tickCount": 200, "values": [1.24,1.26,1.28,1.3,1.32,1.34,1.36,1.38,1.4,1.42,1.44,1.46,1.48,1.5,1.52,1.54,1.56,1.58,1.6,1.62,1.64,1.66,1.68,1.7,1.72,1.74,1.76,1.78,1.8,1.82,1.84,1.86,1.88,1.9,1.92,1.94,1.96,1.98,2,2.02,2.04,2.06],
                              "tickSize": -8, "encode": {"ticks": {"update": {"y2": {"signal": "abs(datum.value*10 - round(datum.value*10)) < 0.000001 ? -8 : -4"}}}},
                              "labelExpr": "abs(datum.value*10 - round(datum.value*10)) < 0.000001 ? format(datum.value, '~g') : ''",
                              "labelPadding": 12, "labelFontSize": 15, "titleFontSize": 14, "titleAlign": "right", "titleBaseline": "alphabetic", "titleX": 309, "titleY": 28}},
               "y": {"field": "dndy", "type": "quantitative", "title": "dN/dy", "scale": {"domain": [0, 0.229], "nice": false, "zero": false},
                     "axis": {"title": "dN/dy", "tickCount": 200, "values": [0,0.005,0.01,0.015,0.02,0.025,0.03,0.035,0.04,0.045,0.05,0.055,0.06,0.065,0.07,0.075,0.08,0.085,0.09,0.095,0.1,0.105,0.11,0.115,0.12,0.125,0.13,0.135,0.14,0.145,0.15,0.155,0.16,0.165,0.17,0.175,0.18,0.185,0.19,0.195,0.2,0.205,0.21,0.215,0.22,0.225],
                              "tickSize": -9, "encode": {"ticks": {"update": {"x2": {"signal": "abs(datum.value*50 - round(datum.value*50)) < 0.000001 ? 9 : 4.5"}}}},
                              "labelExpr": "abs(datum.value*50 - round(datum.value*50)) < 0.000001 ? format(datum.value, '~g') : ''",
                              "labelPadding": 11, "labelFontSize": 15, "titleFontSize": 15, "titleAngle": -90, "titleAlign": "right", "titleBaseline": "middle", "titleX": -54, "titleY": -2}},
               "color": {"field": "model", "type": "nominal", "scale": {"domain": ["DCM-SMM", "UrQMD", "PHSD"], "range": ["#ff0000", "#00e000", "#ff00ff"]}, "legend": null}
             }},
            {"data": {"name": "points"}, "transform": [{"filter": "datum.panel === 'R4'"}],
             "mark": {"type": "bar", "width": 6.5, "filled": false, "stroke": "#00ffff", "strokeWidth": 2},
             "encoding": {"x": {"field": "rap", "type": "quantitative", "title": "y"}, "y": {"field": "syslo", "type": "quantitative", "title": "dN/dy"}, "y2": {"field": "syshi"}}},
            {"data": {"name": "points"}, "transform": [{"filter": "datum.panel === 'R4'"}],
             "mark": {"type": "errorbar", "ticks": false, "color": "black", "thickness": 1},
             "encoding": {"x": {"field": "rap", "type": "quantitative", "title": "y"}, "y": {"field": "dndy", "type": "quantitative", "title": "dN/dy"}, "yError": {"field": "stat"}}},
            {"data": {"name": "points"}, "transform": [{"filter": "datum.panel === 'R4'"}],
             "mark": {"type": "errorbar", "ticks": false, "color": "black", "thickness": 1},
             "encoding": {"x": {"field": "rap", "type": "quantitative", "title": "y"}, "xError": {"field": "xerr"}, "y": {"field": "dndy", "type": "quantitative", "title": "dN/dy"}}},
            {"data": {"name": "points"}, "transform": [{"filter": "datum.panel === 'R4'"}],
             "mark": {"type": "point", "filled": true, "color": "black", "size": 12, "opacity": 1},
             "encoding": {"x": {"field": "rap", "type": "quantitative", "title": "y"}, "y": {"field": "dndy", "type": "quantitative", "title": "dN/dy"}}}
          ]
        }
      ],
      "spacing": 0,
      "bounds": "flush",
      "resolve": {"scale": {"x": "independent", "y": "independent"}}
    }
  ],
  "spacing": 15.5,
  "resolve": {"scale": {"x": "independent", "y": "independent"}},
  "config": {
    "font": "Liberation Sans",
    "view": {"stroke": "black", "strokeWidth": 2},
    "axis": {"domain": false, "grid": false, "tickColor": "black", "tickWidth": 1, "labelColor": "black", "labelFont": "Liberation Sans", "titleFont": "Liberation Sans", "titleColor": "black", "titleFontWeight": "normal", "labelFlush": false, "labelOverlap": false},
    "title": {"font": "Liberation Sans", "fontWeight": "normal", "color": "black"}
  }
}
